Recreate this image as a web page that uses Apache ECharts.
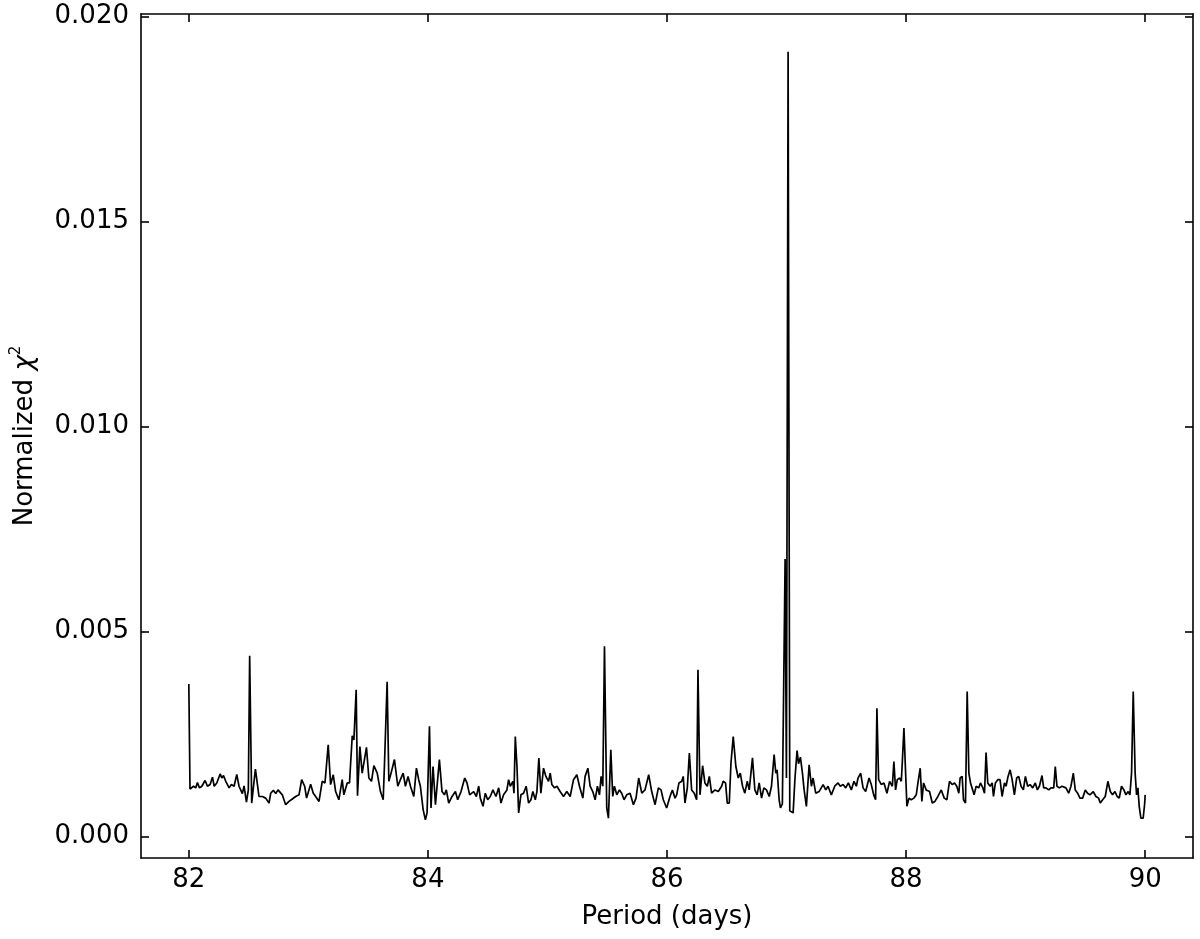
<!DOCTYPE html>
<html>
<head>
<meta charset="utf-8">
<script src="https://cdn.jsdelivr.net/npm/echarts@6/dist/echarts.min.js"></script>
<style>
  html, body { margin: 0; padding: 0; background: #fff; }
  #chart { width: 1200px; height: 939px; }
</style>
</head>
<body>
<div id="chart"></div>
<script>
// periodogram (period in days, normalized chi^2)
const periods = [
  82.000, 82.010, 82.039, 82.058, 82.072, 82.089, 82.109, 82.136, 82.156, 82.178,
  82.198, 82.212, 82.234, 82.262, 82.276, 82.290, 82.309, 82.337, 82.356, 82.379,
  82.401, 82.420, 82.434, 82.448, 82.462, 82.482, 82.498, 82.509, 82.526, 82.557,
  82.587, 82.615, 82.643, 82.671, 82.685, 82.707, 82.727, 82.746, 82.782, 82.810,
  82.838, 82.866, 82.894, 82.922, 82.944, 82.969, 82.985, 83.019, 83.041, 83.061,
  83.089, 83.116, 83.139, 83.166, 83.186, 83.208, 83.228, 83.255, 83.283, 83.297,
  83.325, 83.344, 83.367, 83.381, 83.400, 83.411, 83.431, 83.450, 83.464, 83.486,
  83.506, 83.528, 83.548, 83.576, 83.603, 83.626, 83.637, 83.659, 83.673, 83.692,
  83.720, 83.748, 83.770, 83.793, 83.812, 83.834, 83.854, 83.882, 83.904, 83.923,
  83.937, 83.960, 83.979, 83.993, 84.013, 84.026, 84.043, 84.063, 84.096, 84.118,
  84.138, 84.154, 84.174, 84.202, 84.230, 84.249, 84.277, 84.308, 84.327, 84.349,
  84.383, 84.405, 84.425, 84.438, 84.461, 84.480, 84.500, 84.522, 84.544, 84.569,
  84.592, 84.611, 84.633, 84.661, 84.675, 84.689, 84.711, 84.720, 84.731, 84.745,
  84.759, 84.778, 84.800, 84.822, 84.842, 84.862, 84.878, 84.898, 84.912, 84.928,
  84.945, 84.967, 84.987, 85.009, 85.023, 85.037, 85.059, 85.079, 85.106, 85.134,
  85.162, 85.190, 85.218, 85.246, 85.268, 85.296, 85.315, 85.338, 85.357, 85.379,
  85.399, 85.418, 85.435, 85.449, 85.463, 85.477, 85.496, 85.510, 85.530, 85.546,
  85.560, 85.580, 85.602, 85.621, 85.641, 85.663, 85.691, 85.719, 85.741, 85.763,
  85.789, 85.816, 85.847, 85.872, 85.900, 85.928, 85.950, 85.969, 85.997, 86.025,
  86.045, 86.067, 86.081, 86.100, 86.123, 86.136, 86.150, 86.170, 86.187, 86.206,
  86.228, 86.248, 86.259, 86.276, 86.298, 86.317, 86.337, 86.354, 86.373, 86.401,
  86.429, 86.457, 86.470, 86.490, 86.504, 86.521, 86.535, 86.554, 86.576, 86.596,
  86.613, 86.632, 86.651, 86.671, 86.688, 86.715, 86.735, 86.754, 86.771, 86.791,
  86.810, 86.832, 86.855, 86.874, 86.896, 86.910, 86.921, 86.938, 86.949, 86.965,
  86.988, 86.999, 87.013, 87.027, 87.040, 87.055, 87.070, 87.088, 87.100, 87.116,
  87.133, 87.147, 87.166, 87.189, 87.208, 87.222, 87.244, 87.272, 87.306, 87.328,
  87.347, 87.375, 87.403, 87.431, 87.450, 87.473, 87.495, 87.517, 87.542, 87.564,
  87.584, 87.598, 87.620, 87.640, 87.662, 87.690, 87.709, 87.729, 87.745, 87.756,
  87.770, 87.793, 87.815, 87.840, 87.862, 87.885, 87.898, 87.912, 87.926, 87.946,
  87.960, 87.968, 87.982, 87.996, 88.007, 88.024, 88.043, 88.065, 88.085, 88.099,
  88.118, 88.132, 88.146, 88.168, 88.196, 88.219, 88.241, 88.266, 88.294, 88.319,
  88.341, 88.363, 88.385, 88.405, 88.424, 88.441, 88.452, 88.469, 88.480, 88.497,
  88.511, 88.525, 88.539, 88.553, 88.569, 88.586, 88.608, 88.622, 88.642, 88.656,
  88.669, 88.683, 88.703, 88.720, 88.731, 88.747, 88.767, 88.786, 88.803, 88.823,
  88.836, 88.853, 88.870, 88.887, 88.906, 88.925, 88.942, 88.962, 88.981, 88.998,
  89.017, 89.037, 89.059, 89.081, 89.098, 89.115, 89.137, 89.151, 89.170, 89.193,
  89.212, 89.235, 89.248, 89.262, 89.282, 89.304, 89.318, 89.337, 89.360, 89.379,
  89.399, 89.415, 89.435, 89.454, 89.477, 89.499, 89.518, 89.538, 89.566, 89.588,
  89.610, 89.624, 89.644, 89.666, 89.688, 89.708, 89.727, 89.747, 89.766, 89.783,
  89.802, 89.822, 89.839, 89.858, 89.872, 89.886, 89.900, 89.916, 89.928, 89.939,
  89.950, 89.964, 89.983, 89.995, 90.000
];
const chi2 = [
  0.00372, 0.00116, 0.00123, 0.00119, 0.00132, 0.00119, 0.00123, 0.00137, 0.00123, 0.00127,
  0.00145, 0.00123, 0.00131, 0.00153, 0.00143, 0.00149, 0.00135, 0.00119, 0.00127, 0.00123,
  0.00152, 0.00123, 0.00119, 0.00105, 0.00124, 0.00084, 0.00114, 0.00441, 0.00082, 0.00165,
  0.00098, 0.00098, 0.00094, 0.00082, 0.00106, 0.00113, 0.00105, 0.00114, 0.00102, 0.00078,
  0.00086, 0.00092, 0.00098, 0.00102, 0.00139, 0.00123, 0.00094, 0.00128, 0.00106, 0.00098,
  0.00086, 0.00135, 0.00131, 0.00224, 0.00127, 0.00151, 0.00110, 0.00090, 0.00139, 0.00102,
  0.00131, 0.00131, 0.00246, 0.00236, 0.00358, 0.00100, 0.00220, 0.00155, 0.00179, 0.00218,
  0.00143, 0.00135, 0.00173, 0.00155, 0.00110, 0.00090, 0.00179, 0.00378, 0.00135, 0.00155,
  0.00188, 0.00123, 0.00139, 0.00155, 0.00123, 0.00147, 0.00123, 0.00098, 0.00167, 0.00139,
  0.00123, 0.00066, 0.00041, 0.00058, 0.00269, 0.00070, 0.00171, 0.00078, 0.00188, 0.00110,
  0.00102, 0.00114, 0.00082, 0.00098, 0.00110, 0.00090, 0.00110, 0.00143, 0.00131, 0.00102,
  0.00110, 0.00098, 0.00123, 0.00094, 0.00074, 0.00106, 0.00090, 0.00098, 0.00114, 0.00098,
  0.00119, 0.00082, 0.00102, 0.00114, 0.00139, 0.00123, 0.00135, 0.00106, 0.00244, 0.00171,
  0.00058, 0.00102, 0.00106, 0.00123, 0.00082, 0.00090, 0.00110, 0.00090, 0.00110, 0.00192,
  0.00106, 0.00167, 0.00147, 0.00135, 0.00155, 0.00127, 0.00119, 0.00123, 0.00110, 0.00098,
  0.00110, 0.00098, 0.00139, 0.00151, 0.00123, 0.00094, 0.00147, 0.00167, 0.00123, 0.00110,
  0.00090, 0.00123, 0.00102, 0.00147, 0.00123, 0.00464, 0.00070, 0.00045, 0.00212, 0.00098,
  0.00123, 0.00102, 0.00114, 0.00106, 0.00090, 0.00102, 0.00106, 0.00078, 0.00094, 0.00143,
  0.00106, 0.00114, 0.00151, 0.00110, 0.00078, 0.00119, 0.00114, 0.00090, 0.00070, 0.00098,
  0.00114, 0.00094, 0.00102, 0.00131, 0.00135, 0.00147, 0.00082, 0.00119, 0.00204, 0.00114,
  0.00106, 0.00090, 0.00407, 0.00102, 0.00173, 0.00131, 0.00123, 0.00147, 0.00106, 0.00114,
  0.00110, 0.00123, 0.00135, 0.00131, 0.00082, 0.00082, 0.00179, 0.00244, 0.00171, 0.00143,
  0.00155, 0.00123, 0.00106, 0.00135, 0.00114, 0.00192, 0.00114, 0.00102, 0.00131, 0.00094,
  0.00119, 0.00114, 0.00098, 0.00123, 0.00200, 0.00155, 0.00163, 0.00090, 0.00070, 0.00080,
  0.00677, 0.00143, 0.01914, 0.00063, 0.00060, 0.00058, 0.00140, 0.00210, 0.00178, 0.00194,
  0.00155, 0.00114, 0.00074, 0.00175, 0.00123, 0.00143, 0.00106, 0.00110, 0.00127, 0.00114,
  0.00123, 0.00102, 0.00123, 0.00131, 0.00123, 0.00127, 0.00119, 0.00131, 0.00114, 0.00135,
  0.00123, 0.00143, 0.00155, 0.00119, 0.00110, 0.00143, 0.00127, 0.00102, 0.00090, 0.00313,
  0.00139, 0.00127, 0.00131, 0.00106, 0.00135, 0.00123, 0.00183, 0.00114, 0.00139, 0.00143,
  0.00135, 0.00179, 0.00265, 0.00155, 0.00074, 0.00094, 0.00090, 0.00094, 0.00102, 0.00131,
  0.00167, 0.00086, 0.00131, 0.00114, 0.00110, 0.00082, 0.00086, 0.00098, 0.00114, 0.00094,
  0.00090, 0.00135, 0.00127, 0.00131, 0.00123, 0.00106, 0.00143, 0.00147, 0.00090, 0.00082,
  0.00354, 0.00155, 0.00131, 0.00131, 0.00102, 0.00123, 0.00119, 0.00131, 0.00119, 0.00106,
  0.00205, 0.00131, 0.00123, 0.00131, 0.00098, 0.00131, 0.00139, 0.00139, 0.00098, 0.00131,
  0.00123, 0.00147, 0.00163, 0.00139, 0.00102, 0.00143, 0.00147, 0.00123, 0.00114, 0.00147,
  0.00123, 0.00127, 0.00119, 0.00131, 0.00114, 0.00123, 0.00149, 0.00119, 0.00119, 0.00114,
  0.00119, 0.00119, 0.00171, 0.00123, 0.00119, 0.00123, 0.00127, 0.00119, 0.00106, 0.00123,
  0.00155, 0.00114, 0.00106, 0.00094, 0.00094, 0.00114, 0.00106, 0.00102, 0.00110, 0.00098,
  0.00094, 0.00082, 0.00090, 0.00098, 0.00135, 0.00110, 0.00102, 0.00110, 0.00098, 0.00094,
  0.00123, 0.00114, 0.00102, 0.00110, 0.00102, 0.00155, 0.00354, 0.00155, 0.00102, 0.00119,
  0.00074, 0.00045, 0.00045, 0.00078, 0.00102
];
const xTicks = [82, 84, 86, 88, 90];
const yTicks = [0, 0.005, 0.010, 0.015, 0.020];

const chart = echarts.init(document.getElementById('chart'));

const font = 'DejaVu Sans';
const axisLine = { show: true, onZero: false, lineStyle: { color: '#000', width: 1.6 } };
const tick = (vals) => ({ show: true, inside: true, length: 8, customValues: vals, lineStyle: { color: '#000', width: 1.6 } });

const option = {
    backgroundColor: '#fff',
    animation: false,
    grid: { left: 141, right: 7, top: 14, bottom: 81, containLabel: false },
    xAxis: [
        {
            type: 'value',
            position: 'bottom',
            min: 81.6,
            max: 90.4,
            axisLine: axisLine,
            axisTick: tick(xTicks),
            axisLabel: {
                customValues: xTicks,
                color: '#000',
                fontFamily: font,
                fontSize: 26,
                margin: 9,
                formatter: (v) => String(v),
            },
            splitLine: { show: false },
            name: 'Period (days)',
            nameLocation: 'middle',
            nameGap: 46,
            nameTextStyle: { color: '#000', fontFamily: font, fontSize: 26 },
        },
        {
            type: 'value',
            position: 'top',
            min: 81.6,
            max: 90.4,
            axisLine: axisLine,
            axisTick: tick(xTicks),
            axisLabel: { show: false },
            splitLine: { show: false },
        },
    ],
    yAxis: [
        {
            type: 'value',
            position: 'left',
            min: -0.00052,
            max: 0.02006,
            axisLine: axisLine,
            axisTick: tick(yTicks),
            axisLabel: {
                customValues: yTicks,
                color: '#000',
                fontFamily: font,
                fontSize: 26,
                margin: 12,
                formatter: (v) => v.toFixed(3),
            },
            splitLine: { show: false },
            name: '{n|Normalized }{c|χ}{s|2}',
            nameLocation: 'middle',
            nameGap: 100,
            nameTextStyle: {
                color: '#000',
                fontFamily: font,
                fontSize: 26,
                rich: {
                    n: { fontFamily: font, fontSize: 26, color: '#000', lineHeight: 32 },
                    c: { fontFamily: font, fontSize: 26, fontStyle: 'italic', color: '#000', lineHeight: 32 },
                    s: { fontFamily: font, fontSize: 15, color: '#000', verticalAlign: 'top', lineHeight: 32 },
                },
            },
        },
        {
            type: 'value',
            position: 'right',
            min: -0.00052,
            max: 0.02006,
            axisLine: axisLine,
            axisTick: tick(yTicks),
            axisLabel: { show: false },
            splitLine: { show: false },
        },
    ],
    series: [
        {
            type: 'line',
            xAxisIndex: 0,
            yAxisIndex: 0,
            data: periods.map((p, i) => [p, chi2[i]]),
            showSymbol: false,
            symbol: 'none',
            smooth: false,
            lineStyle: { color: '#000', width: 1.7 },
        },
    ],
};

chart.setOption(option);
</script>
</body>
</html>
